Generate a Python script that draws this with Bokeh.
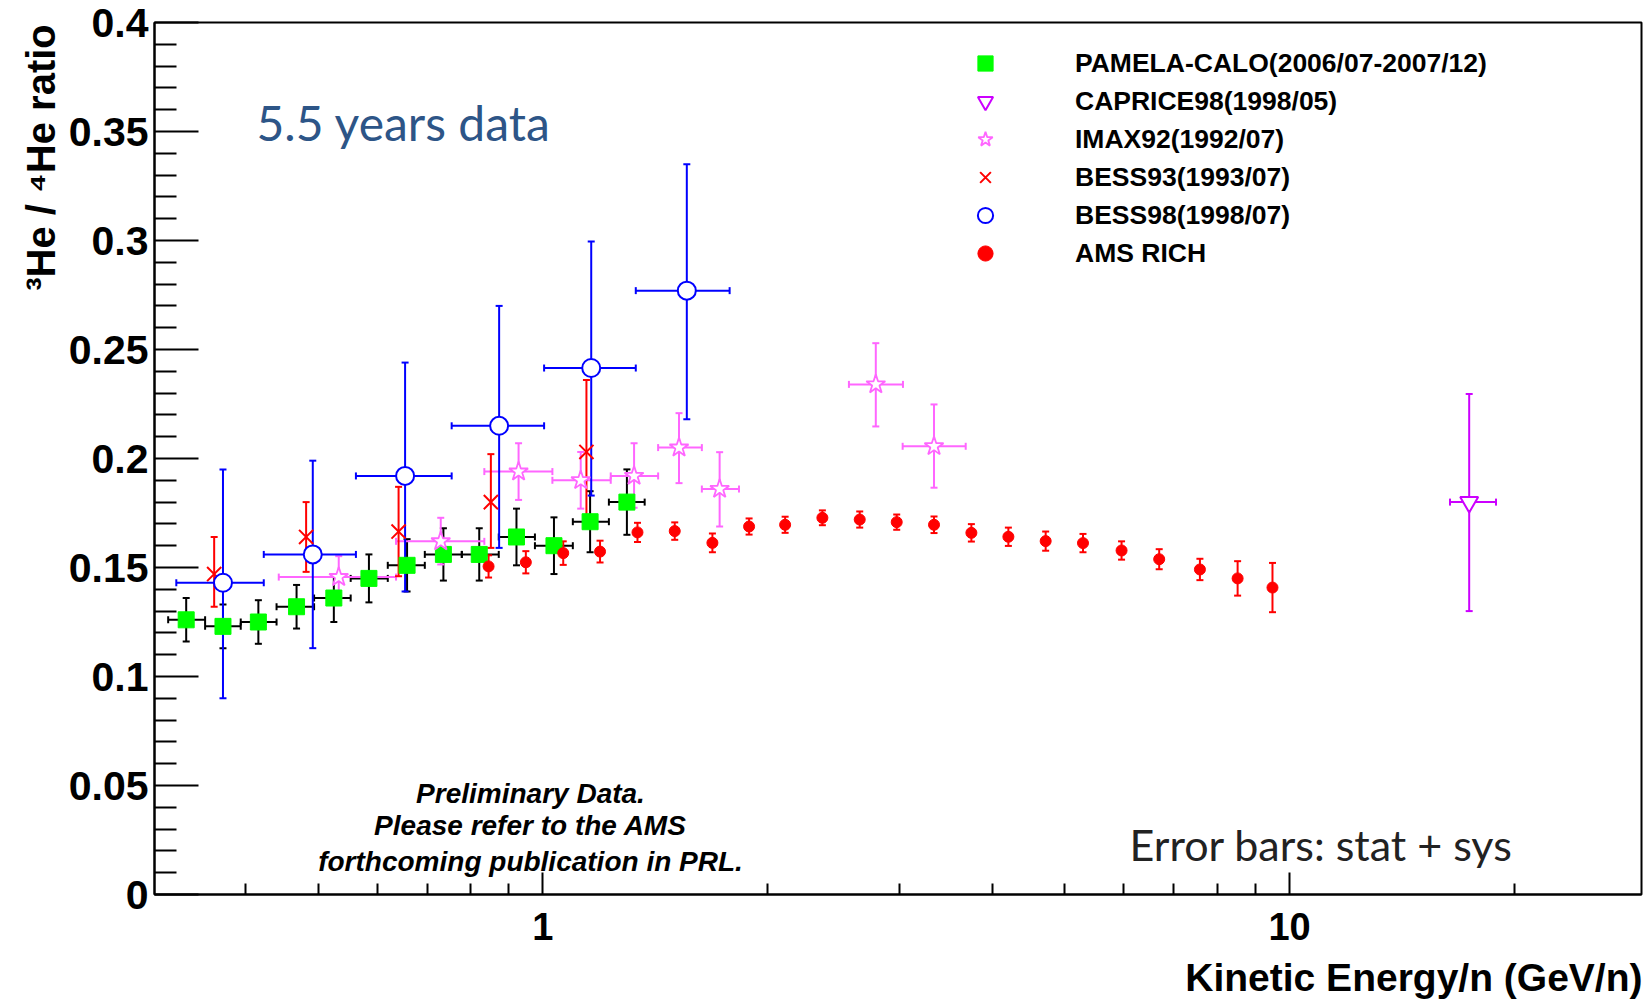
import math
from bokeh.plotting import figure
from bokeh.layouts import row, column
from bokeh.models import (ColumnDataSource, Whisker, TeeHead, FixedTicker,
                          BasicTickFormatter, Label, Legend, LegendItem, Range1d)
from bokeh.embed import file_html
from bokeh.resources import INLINE

# ---------------- data ----------------
# PAMELA-CALO (2006/07-2007/12)
pam_e = [0.333, 0.373, 0.416, 0.468, 0.525, 0.585, 0.658, 0.736, 0.822, 0.922, 1.035, 1.157, 1.296]
pam_e_lo = [0.315, 0.353, 0.394, 0.440, 0.494, 0.553, 0.620, 0.695, 0.779, 0.873, 0.976, 1.097, 1.226]
pam_e_hi = [0.353, 0.394, 0.440, 0.494, 0.553, 0.620, 0.695, 0.779, 0.873, 0.976, 1.097, 1.226, 1.369]
pam_r = [0.126, 0.123, 0.125, 0.132, 0.136, 0.145, 0.151, 0.156, 0.156, 0.164, 0.160, 0.171, 0.180]
pam_err = [0.010, 0.010, 0.010, 0.010, 0.011, 0.011, 0.012, 0.012, 0.012, 0.013, 0.013, 0.014, 0.015]

# CAPRICE98 (1998/05)
cap_e = [17.4]
cap_e_lo = [16.4]
cap_e_hi = [18.9]
cap_r = [0.180]
cap_lo = [0.130]
cap_hi = [0.2296]

# IMAX92 (1992/07)
imax_e = [0.533, 0.730, 0.928, 1.124, 1.325, 1.522, 1.725, 2.792, 3.341]
imax_e_lo = [0.443, 0.636, 0.835, 1.030, 1.233, 1.427, 1.633, 2.570, 3.033]
imax_e_hi = [0.636, 0.835, 1.030, 1.233, 1.427, 1.633, 1.831, 3.036, 3.684]
imax_r = [0.1456, 0.162, 0.194, 0.190, 0.192, 0.205, 0.186, 0.234, 0.2056]
imax_lo = [0.1364, 0.1514, 0.181, 0.177, 0.1774, 0.1887, 0.1688, 0.2147, 0.1866]
imax_hi = [0.1552, 0.1728, 0.207, 0.203, 0.207, 0.2208, 0.2029, 0.2529, 0.2248]

# BESS93 (1993/07)
b93_e = [0.363, 0.482, 0.641, 0.852, 1.144]
b93_r = [0.147, 0.164, 0.1665, 0.180, 0.203]
b93_lo = [0.132, 0.148, 0.146, 0.159, 0.170]
b93_hi = [0.164, 0.180, 0.187, 0.202, 0.236]

# BESS98 (1998/07)
b98_e = [0.373, 0.492, 0.654, 0.874, 1.161, 1.559]
b98_e_lo = [0.323, 0.423, 0.562, 0.755, 1.004, 1.332]
b98_e_hi = [0.423, 0.562, 0.755, 1.004, 1.332, 1.779]
b98_r = [0.143, 0.156, 0.192, 0.215, 0.2415, 0.277]
b98_lo = [0.090, 0.113, 0.139, 0.159, 0.183, 0.218]
b98_hi = [0.195, 0.199, 0.244, 0.270, 0.2995, 0.335]

# AMS RICH
ams_e = [0.846, 0.949, 1.065, 1.193, 1.339, 1.502, 1.687, 1.889, 2.111, 2.368, 2.657,
         2.978, 3.341, 3.749, 4.202, 4.714, 5.289, 5.957, 6.690, 7.585, 8.520, 9.487]
ams_r = [0.1505, 0.1524, 0.1566, 0.1573, 0.1661, 0.1667, 0.1613, 0.1688, 0.1696, 0.1728, 0.1720,
         0.1708, 0.1696, 0.1659, 0.1641, 0.1621, 0.1612, 0.1578, 0.1538, 0.1491, 0.1450, 0.1408]
ams_err = [0.0051, 0.0051, 0.0054, 0.0050, 0.0044, 0.0040, 0.0043, 0.0037, 0.0037, 0.0034, 0.0037,
           0.0035, 0.0038, 0.0040, 0.0042, 0.0044, 0.0042, 0.0042, 0.0046, 0.0049, 0.0079, 0.0113]

legend_labels = ["PAMELA-CALO(2006/07-2007/12)", "CAPRICE98(1998/05)", "IMAX92(1992/07)",
                 "BESS93(1993/07)", "BESS98(1998/07)", "AMS RICH"]

y_ticks = [0, 0.05, 0.1, 0.15, 0.2, 0.25, 0.3, 0.35, 0.4]
y_tick_labels = ["0", "0.05", "0.1", "0.15", "0.2", "0.25", "0.3", "0.35", "0.4"]
x_ticks = [1, 10]
x_minor = [0.4, 0.5, 0.6, 0.7, 0.8, 0.9, 2, 3, 4, 5, 6, 7, 8, 9, 20]

x_title = "Kinetic Energy/n (GeV/n)"
y_title = "\u00b3He / \u2074He ratio"

# ---------------- main figure ----------------
FONT = "Liberation Sans"
p = figure(width=1586, height=955, x_axis_type="log",
           x_range=Range1d(0.302, 29.6), y_range=Range1d(0, 0.4),
           output_backend="svg", toolbar_location=None,
           min_border_left=90, min_border_right=9, min_border_top=22, min_border_bottom=61)
p.grid.visible = False
p.outline_line_color = "black"
p.outline_line_width = 2
p.background_fill_color = "white"
p.border_fill_color = "white"

y_minor = [round(i * 0.01, 2) for i in range(41) if i % 5]
p.yaxis.ticker = FixedTicker(ticks=y_ticks, minor_ticks=y_minor)
p.yaxis.major_label_overrides = dict(zip(y_ticks, y_tick_labels))
p.yaxis.major_tick_in = 44
p.yaxis.major_tick_out = 0
p.yaxis.minor_tick_in = 22
p.yaxis.minor_tick_out = 0
p.yaxis.major_label_standoff = 6

p.xaxis.ticker = FixedTicker(ticks=x_ticks, minor_ticks=x_minor)
p.xaxis.formatter = BasicTickFormatter()
p.xaxis.major_tick_in = 22
p.xaxis.major_tick_out = 0
p.xaxis.minor_tick_in = 11
p.xaxis.minor_tick_out = 0
p.xaxis.major_label_standoff = 18

for ax in (p.xaxis, p.yaxis):
    ax.axis_line_width = 2
    ax.axis_line_color = "black"
    ax.major_tick_line_width = 2
    ax.minor_tick_line_width = 2
    ax.major_tick_line_color = "black"
    ax.minor_tick_line_color = "black"
    ax.major_label_text_font = FONT
    ax.major_label_text_font_style = "bold"
    ax.major_label_text_color = "black"
p.xaxis.major_label_text_font_size = "38px"
p.yaxis.major_label_text_font_size = "41px"


def add_err(x, y, ylo, yhi, color, xlo=None, xhi=None, lw=2):
    src = ColumnDataSource(dict(x=x, y=y, ylo=ylo, yhi=yhi))
    p.add_layout(Whisker(source=src, base="x", lower="ylo", upper="yhi", dimension="height",
                         line_color=color, line_width=lw,
                         upper_head=TeeHead(size=7, line_color=color, line_width=lw),
                         lower_head=TeeHead(size=7, line_color=color, line_width=lw)))
    if xlo is not None:
        src2 = ColumnDataSource(dict(y=y, xlo=xlo, xhi=xhi))
        p.add_layout(Whisker(source=src2, base="y", lower="xlo", upper="xhi", dimension="width",
                             line_color=color, line_width=lw,
                             upper_head=TeeHead(size=7, line_color=color, line_width=lw),
                             lower_head=TeeHead(size=7, line_color=color, line_width=lw)))


# error bars
add_err(pam_e, pam_r, [r - e for r, e in zip(pam_r, pam_err)], [r + e for r, e in zip(pam_r, pam_err)],
        "black", pam_e_lo, pam_e_hi)
add_err(cap_e, cap_r, cap_lo, cap_hi, "#cc00ff", cap_e_lo, cap_e_hi)
add_err(imax_e, imax_r, imax_lo, imax_hi, "#ff66ff", imax_e_lo, imax_e_hi, lw=2)
add_err(b93_e, b93_r, b93_lo, b93_hi, "#ff0000")
add_err(b98_e, b98_r, b98_lo, b98_hi, "#0000ff", b98_e_lo, b98_e_hi)
add_err(ams_e, ams_r, [r - e for r, e in zip(ams_r, ams_err)], [r + e for r, e in zip(ams_r, ams_err)],
        "#ff0000")

# markers
r_pam = p.scatter(pam_e, pam_r, marker="square", size=16, fill_color="#00ff00", line_color="#00ff00")
r_cap = p.scatter(cap_e, cap_r, marker="inverted_triangle", size=18, fill_color="white",
                  line_color="#cc00ff", line_width=2)
r_imax = p.scatter(imax_e, imax_r, marker="star", size=20, fill_color="white",
                   line_color="#ff66ff", line_width=1.8)
r_b93 = p.scatter(b93_e, b93_r, marker="x", size=20, line_color="#ff0000", line_width=2)
r_b98 = p.scatter(b98_e, b98_r, marker="circle", size=18, fill_color="white",
                  line_color="#0000ff", line_width=2)
r_ams = p.scatter(ams_e, ams_r, marker="circle", size=11, fill_color="#ff0000", line_color="#ff0000")

renderers = [r_pam, r_cap, r_imax, r_b93, r_b98, r_ams]
legend = Legend(items=[LegendItem(label=l, renderers=[r]) for l, r in zip(legend_labels, renderers)],
                location=(810, 622), padding=0, spacing=0, margin=0,
                glyph_width=42, glyph_height=38, label_height=38, label_standoff=69,
                border_line_color=None, background_fill_alpha=0,
                label_text_font=FONT, label_text_font_style="bold",
                label_text_font_size="26.5px", label_text_color="black")
p.add_layout(legend)

# texts inside the frame (screen units relative to the frame)
p.add_layout(Label(x=102, y=772, x_units="screen", y_units="screen", text="5.5 years data",
                   text_font="Lato", text_font_size="48px", text_color="#2d5587",
                   text_align="left", text_baseline="alphabetic"))
for txt, yy in [("Preliminary Data.", 101), ("Please refer to the AMS", 69),
                ("forthcoming publication in PRL.", 33)]:
    p.add_layout(Label(x=376, y=yy, x_units="screen", y_units="screen", text=txt,
                       text_font=FONT, text_font_style="bold italic", text_font_size="28px",
                       text_color="black", text_align="center", text_baseline="alphabetic"))
p.add_layout(Label(x=975, y=50, x_units="screen", y_units="screen", text="Error bars: stat + sys",
                   text_font="Lato", text_font_size="43px", text_color="#222222",
                   text_align="left", text_baseline="alphabetic"))


def blank(w, h):
    f = figure(width=w, height=h, x_range=Range1d(0, 1), y_range=Range1d(0, 1),
               x_axis_location=None, y_axis_location=None, output_backend="svg",
               toolbar_location=None, min_border=0)
    f.grid.visible = False
    f.outline_line_color = None
    f.background_fill_color = "white"
    f.border_fill_color = "white"
    return f


# y-axis title strip (left); its frame is aligned with the main frame (y 22..894)
pl = blank(64, 955)
pl.add_layout(Label(x=40, y=737, x_units="screen", y_units="screen", angle=math.pi / 2,
                    text=y_title, text_font=FONT, text_font_style="bold",
                    text_font_size="40px", text_color="black",
                    text_align="center", text_baseline="middle"))

# x-axis title strip (bottom)
pb = blank(1650, 45)
pb.add_layout(Label(x=1642, y=23, x_units="screen", y_units="screen",
                    text=x_title, text_font=FONT, text_font_style="bold",
                    text_font_size="39px", text_color="black",
                    text_align="right", text_baseline="middle"))

layout = column(row(pl, p, spacing=0), pb, spacing=0)
open("out.html", "w").write(file_html(layout, INLINE))
